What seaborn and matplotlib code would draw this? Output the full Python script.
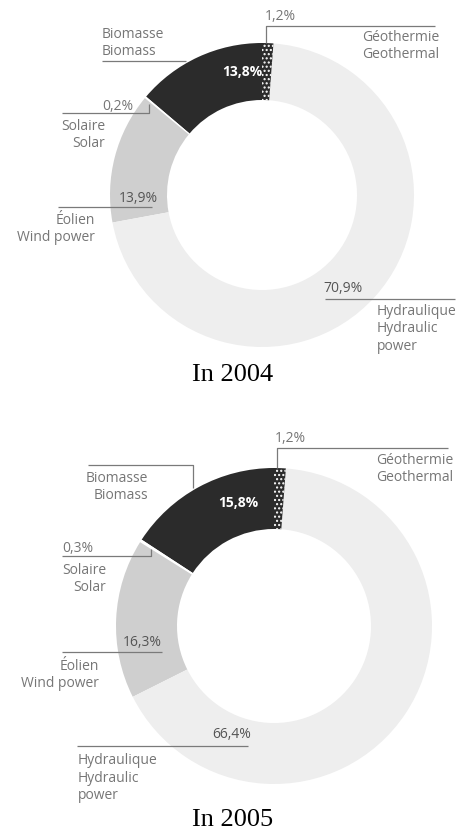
import matplotlib
matplotlib.use("Agg")
import matplotlib.pyplot as plt
import seaborn as sns

# ---- data ----
sources_fr = ["Biomasse", "Solaire", "Éolien", "Hydraulique", "Géothermie"]
sources_en = ["Biomass", "Solar", "Wind power", "Hydraulic\npower", "Geothermal"]
share_2004 = [13.8, 0.2, 13.9, 70.9, 1.2]
share_2005 = [15.8, 0.3, 16.3, 66.4, 1.2]
years = ["In 2004", "In 2005"]

sns.set_theme(style="white")
plt.rcParams["font.family"] = ["Open Sans", "DejaVu Sans"]

W, H = 462, 835
colors = ["#2b2b2b", "#ffffff", "#cfcfcf", "#eeeeee", "#2b2b2b"]
txt_c = "#767676"
line_c = "#7a7a7a"


def fmt(v):
    return f"{v:.1f}%".replace(".", ",")


def Y(y):
    # pixel row -> data y
    return H - y


fig = plt.figure(figsize=(W / 100, H / 100), dpi=100)
ax = fig.add_axes([0, 0, 1, 1])


def donut(share, cx, cy, r, width):
    wedges, _ = ax.pie(
        share, colors=colors, startangle=90, counterclock=True,
        radius=r, center=(cx, Y(cy)),
        wedgeprops=dict(width=width, linewidth=0),
    )
    geo = wedges[-1]
    geo.set_hatch("....")
    geo.set_edgecolor("white")
    return wedges


def leader(pts):
    xs = [p[0] for p in pts]
    ys = [Y(p[1]) for p in pts]
    ax.plot(xs, ys, color=line_c, lw=0.9, solid_capstyle="butt")


def label(x, y, s, ha="left", color=txt_c, size=10, weight="normal"):
    ax.text(x, Y(y), s, ha=ha, va="center", color=color, fontsize=size,
            fontweight=weight, linespacing=1.25)


# ================= 2004 =================
s = share_2004
donut(s, 262, 195, 152, 57)
# geothermal
label(265, 16, fmt(s[4]))
leader([(266, 43), (266, 26), (435, 26)])
label(439, 46, "Géothermie\nGeothermal", ha="right")
# biomass
label(102, 43, "Biomasse\nBiomass")
leader([(102, 61), (186, 61)])
label(222, 72, fmt(s[0]), color="white", size=10, weight="bold")
# solar
label(102, 106, fmt(s[1]))
leader([(62, 113), (149, 113), (149, 104)])
label(105, 135, "Solaire\nSolar", ha="right")
# wind
label(138, 198, fmt(s[2]), ha="center", color="#555555")
leader([(58, 207), (152, 207)])
label(95, 229, "Éolien\nWind power", ha="right")
# hydraulic
label(323, 288, fmt(s[3]), color="#555555")
leader([(325, 299), (455, 299)])
label(377, 329, "Hydraulique\nHydraulic\npower")
ax.text(233, Y(375), years[0], ha="center", va="center", fontsize=19,
        family=["Liberation Serif", "DejaVu Serif"], color="black")

# ================= 2005 =================
s = share_2005
donut(s, 274, 626, 158, 61)
# geothermal
label(275, 438, fmt(s[4]))
leader([(277, 468), (277, 448), (448, 448)])
label(453, 469, "Géothermie\nGeothermal", ha="right")
# biomass
leader([(88, 465), (193, 465), (193, 488)])
label(148, 487, "Biomasse\nBiomass", ha="right")
label(218, 503, fmt(s[0]), color="white", size=10, weight="bold")
# solar
label(62, 548, fmt(s[1]))
leader([(62, 556), (151, 556), (151, 549)])
label(106, 579, "Solaire\nSolar", ha="right")
# wind
label(142, 642, fmt(s[2]), ha="center", color="#555555")
leader([(62, 652), (162, 652)])
label(99, 675, "Éolien\nWind power", ha="right")
# hydraulic
label(232, 735, fmt(s[3]), ha="center", color="#555555")
leader([(77, 746), (248, 746)])
label(78, 778, "Hydraulique\nHydraulic\npower")
ax.text(233, Y(820), years[1], ha="center", va="center", fontsize=19,
        family=["Liberation Serif", "DejaVu Serif"], color="black")

ax.set_xlim(0, W)
ax.set_ylim(0, H)
ax.set_aspect("auto")
ax.axis("off")

fig.savefig("out.png", dpi=100)
